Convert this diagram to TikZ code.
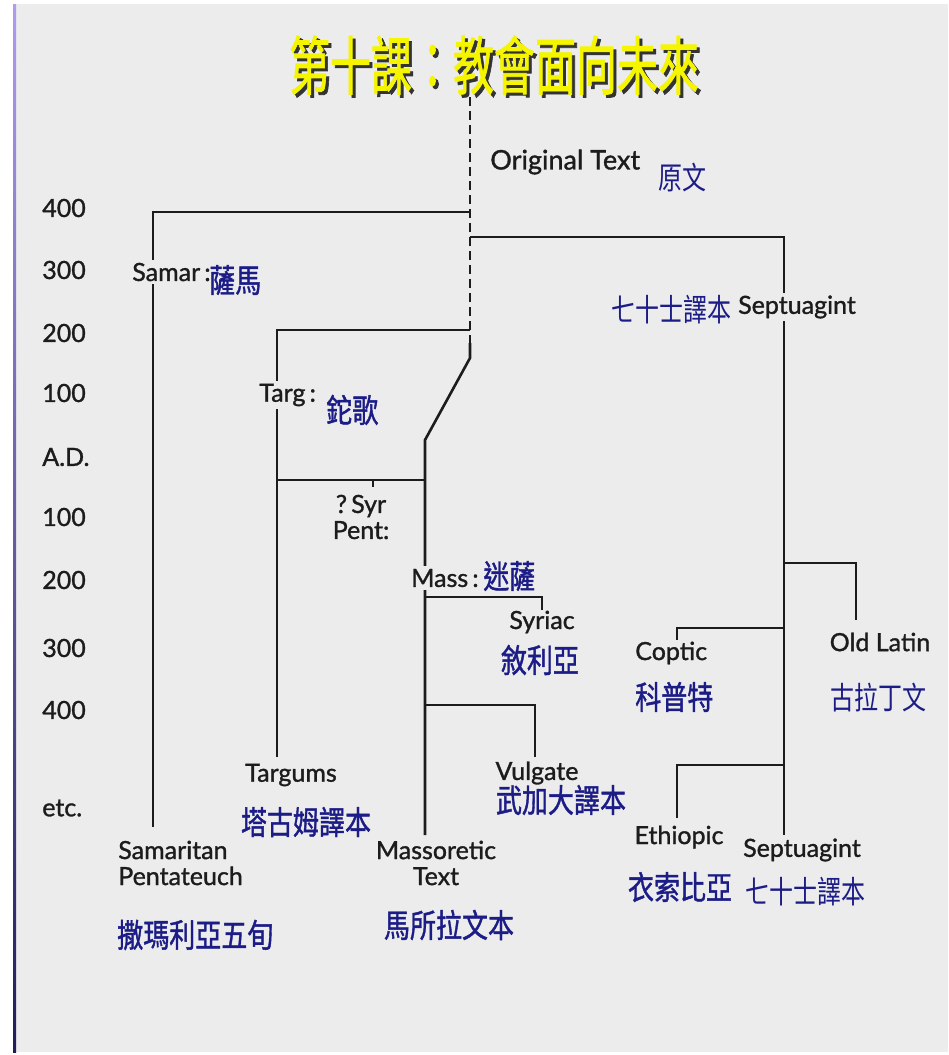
\documentclass[tikz,border=0pt]{standalone}
\usepackage{fontspec}
\usepackage{graphicx}
\setmainfont{Lato}[FakeBold=1.2]
\newfontfamily\cjk{Noto Sans CJK TC}
\newfontfamily\cjkb{Noto Sans CJK TC}[FakeBold=1.4]
\usetikzlibrary{positioning}

\definecolor{paper}{RGB}{236,236,236}
\definecolor{zhblue}{RGB}{28,28,135}
\definecolor{ink}{RGB}{28,28,28}
\definecolor{edgetop}{RGB}{175,155,240}
\definecolor{edgebot}{RGB}{30,30,90}
\definecolor{titleyel}{RGB}{245,245,0}

\newcommand{\zh}[1]{\scalebox{1}[1.25]{\cjkb #1}}
\newcommand{\zhthin}[1]{\scalebox{1}[1.3]{\cjk #1}}

\begin{document}
\begin{tikzpicture}[x=0.5pt, y=-0.5pt, line width=1.3pt, ink,
      lbl/.style={font=\fontsize{12.5}{14}\selectfont, text=ink, inner sep=0.5pt, align=center},
      onln/.style={lbl, fill=paper, inner sep=1.5pt},
      zhl/.style={font=\fontsize{13}{15}\selectfont, text=zhblue, inner sep=0pt},
      zht/.style={font=\fontsize{12}{14}\selectfont, text=zhblue, inner sep=0pt},
      yr/.style={lbl, anchor=west, inner sep=0pt}]

    \useasboundingbox (0,0) rectangle (948,1055);
    \fill[white] (0,0) rectangle (948,1055);
    \fill[paper] (16,4) rectangle (948,1052);
    \shade[top color=edgetop, bottom color=edgebot] (13,4) rectangle (16,1052);

    % title with its dark shadow
    \node[font=\fontsize{20.5}{22}\selectfont, text=black!80] (titleshd) at (497,68)
        {\scalebox{1}[1.55]{\cjkb 第十課：教會面向未來}};
    \node[font=\fontsize{20.5}{22}\selectfont, text=titleyel] (title) at (494,65)
        {\scalebox{1}[1.55]{\cjkb 第十課：教會面向未來}};

    % joints of the tree
    \coordinate (orig)    at (470,97);
    \coordinate (samj)    at (470,212);
    \coordinate (septj)   at (470,237);
    \coordinate (targj)   at (470,330);
    \coordinate (dashend) at (470,343);
    \coordinate (bend)    at (470,358);
    \coordinate (kink)    at (425,440);
    \coordinate (syrj)    at (425,480);
    \coordinate (syriacj) at (425,597);
    \coordinate (vulgj)   at (425,705);
    \coordinate (olj)     at (784,563);
    \coordinate (coptj)   at (784,628);
    \coordinate (ethj)    at (784,765);

    \coordinate (samend)  at (153,827);
    \coordinate (targend) at (277,757);
    \coordinate (syrend)  at (277,480);
    \coordinate (syrtick) at (373,480);
    \coordinate (massend) at (425,835);
    \coordinate (syrcend) at (542,610);
    \coordinate (vulgend) at (535,757);
    \coordinate (septend) at (784,835);
    \coordinate (olend)   at (856,620);
    \coordinate (coptend) at (677,640);
    \coordinate (ethend)  at (677,818);

    \draw[dash pattern=on 4.5pt off 2.5pt] (orig) -- (dashend);
    \draw (dashend) -- (bend) -- (kink) -- (massend);
    \draw (samj) -| (samend);
    \draw (septj) -| (septend);
    \draw (targj) -| (targend);
    \draw (syrj) -- (syrend);
    \draw[line width=0.8pt] (syrtick) -- ++(0,7);
    \draw (syriacj) -| (syrcend);
    \draw (vulgj) -| (vulgend);
    \draw (olj) -| (olend);
    \draw (coptj) -| (coptend);
    \draw (ethj) -| (ethend);

    % dates
    \node[yr] (y400a) at (41,208) {400};
    \node[yr] (y300a) at (41,270) {300};
    \node[yr] (y200a) at (41,333) {200};
    \node[yr] (y100a) at (41,393) {100};
    \node[yr] (ad)    at (41,457) {A.D.};
    \node[yr] (y100b) at (41,517) {100};
    \node[yr] (y200b) at (41,580) {200};
    \node[yr] (y300b) at (41,648) {300};
    \node[yr] (y400b) at (41,710) {400};
    \node[yr] (etc)   at (41,808) {etc.};

    % labels sitting on the lines
    \node[lbl, anchor=west, font=\fontsize{13.5}{15}\selectfont] (origtxt) at (488,162) {Original Text};
    \node[zht, anchor=west] (origzh) at (657,178) {\zhthin{原文}};
    \node[onln, anchor=west] (samar) at (128,272) {Samar\,:};
    \node[zhl, anchor=west] (samarzh) at (208,280) {\zh{薩馬}};
    \node[onln] (septtop) at (797,307) {Septuagint};
    \node[zht] (septtopzh) at (671,310) {\zhthin{七十士譯本}};
    \node[onln, anchor=west] (targ) at (255,395) {Targ\,:};
    \node[zhl, anchor=west] (targzh) at (325,410) {\zh{鉈歌}};
    \node[lbl] (syrpent) at (361,517) {?\,Syr\\[-1pt]Pent:};
    \node[onln, anchor=west] (mass) at (407,578) {Mass\,:};
    \node[zhl, anchor=west] (masszh) at (482,576) {\zh{迷薩}};

    % leaves
    \node[lbl] (syriac) at (542,622) {Syriac};
    \node[zhl] (syriaczh) at (540,660) {\zh{敘利亞}};
    \node[lbl, anchor=west] (coptic) at (633,653) {Coptic};
    \node[zhl, anchor=west] (copticzh) at (634,697) {\zh{科普特}};
    \node[lbl] (oldlatin) at (880,642) {Old Latin};
    \node[zht] (oldlatinzh) at (878,698) {\zhthin{古拉丁文}};
    \node[lbl] (targums) at (291,775) {Targums};
    \node[zhl] (targumszh) at (306,822) {\zh{塔古姆譯本}};
    \node[lbl] (vulgate) at (537,773) {Vulgate};
    \node[zhl] (vulgatezh) at (561,800) {\zh{武加大譯本}};
    \node[lbl, anchor=west, align=left] (samaritan) at (116,863) {Samaritan\\[-1pt]Pentateuch};
    \node[zhl, anchor=west] (samaritanzh) at (116,935) {\zh{撒瑪利亞五旬}};
    \node[lbl] (massoretic) at (436,863) {Massoretic\\[-1pt]Text};
    \node[zhl] (massoreticzh) at (449,925) {\zh{馬所拉文本}};
    \node[lbl] (ethiopic) at (679,837) {Ethiopic};
    \node[zhl] (ethiopiczh) at (680,887) {\zh{衣索比亞}};
    \node[lbl] (septbot) at (802,850) {Septuagint};
    \node[zht] (septbotzh) at (805,892) {\zhthin{七十士譯本}};

\end{tikzpicture}
\end{document}
